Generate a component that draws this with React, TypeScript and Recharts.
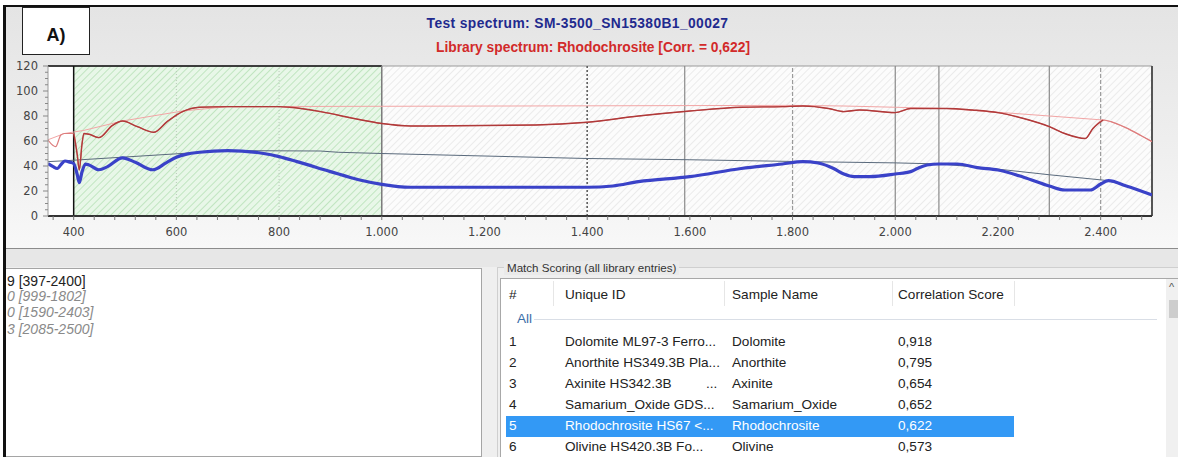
import React from 'react';
import { LineChart, Line, XAxis, YAxis, ReferenceArea, ReferenceLine } from 'recharts';

// test spectrum (blue, thick)
const testWave = [350, 360, 368, 377, 383, 393, 400, 407, 411, 416, 423, 429, 449, 466, 495, 520, 554, 580, 600, 620, 645, 700, 770, 800, 835, 900, 955, 1000, 1055, 1200, 1400, 1450, 1500, 1600, 1700, 1780, 1820, 1850, 1880, 1900, 1920, 1950, 2000, 2030, 2043, 2062, 2085, 2121, 2160, 2200, 2250, 2300, 2330, 2380, 2400, 2415, 2450, 2500];
const testRefl = [42, 39.5, 38, 42, 44, 43, 42, 33, 26.7, 35, 41.5, 41, 37, 39.5, 46.5, 43, 37, 42.5, 47, 49.5, 51, 52.3, 50, 47.5, 43.5, 35.5, 29, 25.3, 23, 23, 23, 24, 27.5, 31.5, 38, 41.6, 43.5, 42.4, 38, 33.6, 31.5, 31.5, 33.6, 35.5, 38, 40.8, 41.6, 41.6, 38.7, 36.8, 31, 24, 20.8, 20.8, 25.6, 28.3, 24, 16.8];

// continuum of the test spectrum (thin slate line)
const testHullWave = [350, 383, 700, 880, 915, 1000, 1250, 1400, 1600, 1820, 2000, 2090, 2200, 2300, 2415, 2450, 2500];
const testHullRefl = [43.5, 44.2, 52.3, 52, 51, 50, 47.5, 46, 45, 43.5, 42.5, 41.6, 37.5, 33, 28.3, 24, 16.8];

// library spectrum (red)
const libWave = [350, 365, 375, 382, 400, 407, 411, 416, 420, 430, 449, 475, 495, 524, 556, 582, 612, 645, 700, 800, 820, 881, 946, 1000, 1056, 1300, 1400, 1500, 1600, 1700, 1780, 1820, 1870, 1900, 1930, 2000, 2030, 2100, 2150, 2200, 2250, 2300, 2330, 2370, 2385, 2405, 2420, 2450, 2480, 2500];
const libRefl = [60.8, 55.5, 64.8, 66, 66, 48.8, 36.8, 56.8, 66, 65.4, 62.7, 72.3, 76, 71.5, 67, 75.5, 83.5, 87, 87.5, 87.5, 87, 83.5, 78, 74, 72, 72.8, 75, 80, 84, 87, 87.5, 88, 86, 83.5, 84.8, 82.7, 86, 86, 84.8, 82.7, 78, 71.5, 66, 62, 70, 76.8, 75.5, 70.5, 64, 59.5];

// continuum of the library spectrum (light pink)
const libHullWave = [350, 382, 420, 495, 612, 700, 1800, 1900, 2000, 2100, 2200, 2300, 2405, 2420, 2450, 2480, 2500];
const libHullRefl = [61, 66, 68.5, 76, 84, 87.5, 88.5, 88, 87, 86, 83, 80, 76.8, 75.5, 70.5, 64, 59.5];

const fitRange = [397, 2405];
const greenRange = [400, 1000];
const gridWaves = [600, 800];
const solidMarks = [1590, 2000, 2085, 2300];
const dashedMarks = [1800, 2400];
const darkDashed = 1400;

const xMajor = [400, 600, 800, 1000, 1200, 1400, 1600, 1800, 2000, 2200, 2400];
const xTicks = Array.from({ length: 54 }, (_, i) => 360 + i * 40);
const yTicks = Array.from({ length: 25 }, (_, i) => i * 5);

// table on the lower right
const rowNums = ['1', '2', '3', '4', '5', '6'];
const uniqueIds = ['Dolomite ML97-3 Ferro...', 'Anorthite HS349.3B Pla...', 'Axinite HS342.3B', 'Samarium_Oxide GDS...', 'Rhodochrosite HS67 <...', 'Olivine HS420.3B Fo...'];
const sampleNames = ['Dolomite', 'Anorthite', 'Axinite', 'Samarium_Oxide', 'Rhodochrosite', 'Olivine'];
const scores = ['0,918', '0,795', '0,654', '0,652', '0,622', '0,573'];
const rangeLines = ['9 [397-2400]', '0 [999-1802]', '0 [1590-2403]', '3 [2085-2500]'];

const pts = (xs: number[], ys: number[]) => xs.map((x, i) => ({ x, y: ys[i] }));
const testData = pts(testWave, testRefl);
const testHull = pts(testHullWave, testHullRefl);
const libData = pts(libWave, libRefl);
const libFit = libData.filter(p => p.x >= fitRange[0] && p.x <= fitRange[1]);
const libHull = pts(libHullWave, libHullRefl);

const sans = '"Liberation Sans", Arial, sans-serif';
const tickFont = '"DejaVu Sans", Verdana, sans-serif';

const fmt = (v: number) => (v >= 1000 ? `${Math.floor(v / 1000)}.${String(v % 1000).padStart(3, '0')}` : String(v));

const XTick = (props: any) => {
  const { x, y, payload } = props;
  const major = xMajor.includes(payload.value);
  return (
    <g>
      <line x1={x} y1={y} x2={x} y2={y + 4} stroke="#777" />
      {major && (
        <text x={x} y={y + 12} dy="0.71em" textAnchor="middle" fontSize={11.5} fontFamily={tickFont} fill="#444">
          {fmt(payload.value)}
        </text>
      )}
    </g>
  );
};

const YTick = (props: any) => {
  const { x, y, payload } = props;
  const major = payload.value % 20 === 0;
  return (
    <g>
      <line x1={x - (major ? 5 : 3)} y1={y} x2={x} y2={y} stroke="#888" />
      {major && (
        <text x={x - 10} y={y} dy="0.355em" textAnchor="end" fontSize={11.5} fontFamily={tickFont} fill="#444">
          {payload.value}
        </text>
      )}
    </g>
  );
};

const cols = [509, 565, 732, 898];
const rowY = [342, 363, 384, 405, 426, 447];

export default function App() {
  return (
    <div style={{ position: 'absolute', left: 0, top: 0, width: 1178, height: 457, overflow: 'hidden', background: '#fff', fontFamily: sans }}>
      {/* upper chart panel */}
      <div style={{ position: 'absolute', left: 5, top: 7, width: 1173, height: 241, background: 'linear-gradient(#e4e4e4, #efefef 60%, #f8f8f8)' }} />
      <div style={{ position: 'absolute', left: 5, top: 248, width: 1173, height: 1, background: '#8c8c8c' }} />
      {/* lower area */}
      <div style={{ position: 'absolute', left: 5, top: 249, width: 1173, height: 208, background: '#efefef' }} />
      <div style={{ position: 'absolute', left: 5, top: 249, width: 1173, height: 18, background: '#e7e7e7' }} />

      <div style={{ position: 'absolute', left: 0, top: 0 }}>
        <LineChart width={1178} height={250} margin={{ top: 66, right: 26, left: 8, bottom: 0 }}>
          <defs>
            <pattern id="hatchGreen" patternUnits="userSpaceOnUse" width={5} height={5} patternTransform="rotate(45)">
              <rect width={5} height={5} fill="#e8f7e8" />
              <line x1={0} y1={0} x2={0} y2={5} stroke="#a6d9a6" strokeWidth={1.2} />
            </pattern>
            <pattern id="hatchGrey" patternUnits="userSpaceOnUse" width={5} height={5} patternTransform="rotate(45)">
              <rect width={5} height={5} fill="#fcfcfc" />
              <line x1={0} y1={0} x2={0} y2={5} stroke="#e0e0e0" strokeWidth={1.2} />
            </pattern>
          </defs>
          <XAxis
            dataKey="x"
            type="number"
            domain={[350, 2500]}
            allowDataOverflow
            ticks={xTicks}
            interval={0}
            height={34}
            tickSize={0}
            tickMargin={0}
            tick={<XTick />}
            axisLine={{ stroke: '#333', strokeWidth: 2 }}
          />
          <YAxis
            type="number"
            domain={[0, 120]}
            ticks={yTicks}
            interval={0}
            width={40}
            tickSize={0}
            tickMargin={0}
            tick={<YTick />}
            axisLine={{ stroke: '#9a9a9a' }}
          />
          <ReferenceArea x1={350} x2={2500} y1={0} y2={120} fill="url(#hatchGrey)" fillOpacity={1} stroke="none" />
          <ReferenceArea x1={350} x2={greenRange[0]} y1={0} y2={120} fill="#ffffff" fillOpacity={1} stroke="none" />
          <ReferenceArea x1={greenRange[0]} x2={greenRange[1]} y1={0} y2={120} fill="url(#hatchGreen)" fillOpacity={1} stroke="none" />
          {gridWaves.map(w => (
            <ReferenceLine key={w} x={w} stroke="#b9c9b9" strokeDasharray="1 2" />
          ))}
          <ReferenceLine y={120} stroke="#9a9a9a" />
          <ReferenceLine segment={[{ x: 350, y: 120 }, { x: greenRange[1], y: 120 }]} stroke="#111" strokeWidth={1.5} />
          <ReferenceLine x={greenRange[0]} stroke="#111" strokeWidth={1.5} />
          <ReferenceLine x={greenRange[1]} stroke="#7a7a7a" strokeWidth={1.5} />
          <ReferenceLine x={darkDashed} stroke="#555" strokeWidth={1.5} strokeDasharray="2 2" />
          {solidMarks.map(w => (
            <ReferenceLine key={w} x={w} stroke="#8a8a8a" strokeWidth={1.2} />
          ))}
          {dashedMarks.map(w => (
            <ReferenceLine key={w} x={w} stroke="#9a9a9a" strokeWidth={1.2} strokeDasharray="4 2" />
          ))}
          <ReferenceLine x={2500} stroke="#555" strokeWidth={2} />
          <Line data={libHull} dataKey="y" type="linear" stroke="#f2a5a5" strokeWidth={1} dot={false} isAnimationActive={false} />
          <Line data={testHull} dataKey="y" type="linear" stroke="#5a6a7c" strokeWidth={1} dot={false} isAnimationActive={false} />
          <Line data={libData} dataKey="y" type="monotone" stroke="#dd7d7d" strokeWidth={1.2} dot={false} isAnimationActive={false} />
          <Line data={libFit} dataKey="y" type="monotone" stroke="#b03a3a" strokeWidth={1.4} dot={false} isAnimationActive={false} />
          <Line data={testData} dataKey="y" type="monotone" stroke="#3a42c8" strokeWidth={3.2} dot={false} isAnimationActive={false} />
        </LineChart>
      </div>

      {/* titles */}
      <div style={{ position: 'absolute', left: 0, top: 16, width: 1155, textAlign: 'center', fontSize: 13.8, letterSpacing: 0.4, lineHeight: '16px', fontWeight: 'bold', color: '#1f2a8e', whiteSpace: 'nowrap' }}>
        Test spectrum: SM-3500_SN15380B1_00027
      </div>
      <div style={{ position: 'absolute', left: 0, top: 40, width: 1186, textAlign: 'center', fontSize: 13.8, lineHeight: '16px', fontWeight: 'bold', color: '#d22a2a', whiteSpace: 'nowrap' }}>
        Library spectrum: Rhodochrosite [Corr. = 0,622]
      </div>

      {/* panel label */}
      <div style={{ position: 'absolute', left: 22, top: 7, width: 66, height: 46, background: '#fff', border: '1px solid #222' }}>
        <div style={{ position: 'absolute', left: 0, top: 17, width: 66, textAlign: 'center', fontSize: 18, lineHeight: '20px', fontWeight: 'bold', color: '#111' }}>A)</div>
      </div>

      {/* left list */}
      <div style={{ position: 'absolute', left: 6, top: 268, width: 475, height: 187, background: '#fff', borderTop: '1px solid #a5a5a5', borderRight: '1px solid #a5a5a5', borderBottom: '1px solid #a5a5a5', overflow: 'hidden' }}>
        {rangeLines.map((t, i) => (
          <div key={t} style={{ position: 'absolute', left: 1, top: [4, 19, 35, 52][i], fontSize: 14, lineHeight: '16px', whiteSpace: 'nowrap', color: i === 0 ? '#222' : '#8a8a8a', fontStyle: i === 0 ? 'normal' : 'italic' }}>
            {t}
          </div>
        ))}
      </div>

      {/* match scoring group */}
      <div style={{ position: 'absolute', left: 497, top: 267, width: 681, height: 1, background: '#cfcfcf' }} />
      <div style={{ position: 'absolute', left: 497, top: 267, width: 1, height: 190, background: '#cfcfcf' }} />
      <div style={{ position: 'absolute', left: 504, top: 261, padding: '0 3px', background: '#eaeaea', fontSize: 11.6, lineHeight: '14px', color: '#333', whiteSpace: 'nowrap' }}>
        Match Scoring (all library entries)
      </div>
      <div style={{ position: 'absolute', left: 500, top: 278, width: 678, height: 179, background: '#fff', borderTop: '1px solid #a8a8a8', borderLeft: '1px solid #a8a8a8' }} />
      {[553, 724, 892, 1014].map(x => (
        <div key={x} style={{ position: 'absolute', left: x, top: 281, width: 1, height: 25, background: '#e6e6e6' }} />
      ))}
      {['#', 'Unique ID', 'Sample Name', 'Correlation Score'].map((h, i) => (
        <div key={h} style={{ position: 'absolute', left: cols[i], top: 287, fontSize: 13.6, lineHeight: '16px', color: '#222', whiteSpace: 'nowrap' }}>{h}</div>
      ))}
      <div style={{ position: 'absolute', left: 517, top: 311, fontSize: 13.6, lineHeight: '16px', color: '#3a6ea8' }}>All</div>
      <div style={{ position: 'absolute', left: 534, top: 319, width: 623, height: 1, background: '#d9dee6' }} />
      <div style={{ position: 'absolute', left: 506, top: rowY[4] - 10.5, width: 508, height: 21, background: '#3399f5' }} />
      {rowNums.map((n, i) => {
        const sel = i === 4;
        const c = sel ? '#fff' : '#222';
        const st = { position: 'absolute' as const, top: rowY[i] - 8, fontSize: 13.6, lineHeight: '16px', color: c, whiteSpace: 'nowrap' as const };
        return (
          <React.Fragment key={n}>
            <div style={{ ...st, left: cols[0] }}>{n}</div>
            <div style={{ ...st, left: cols[1] }}>{uniqueIds[i]}</div>
            {i === 2 && <div style={{ ...st, left: 706 }}>...</div>}
            <div style={{ ...st, left: cols[2] }}>{sampleNames[i]}</div>
            <div style={{ ...st, left: cols[3] }}>{scores[i]}</div>
          </React.Fragment>
        );
      })}
      {/* scrollbar */}
      <div style={{ position: 'absolute', left: 1166, top: 279, width: 12, height: 178, background: '#f0f0f0' }} />
      <div style={{ position: 'absolute', left: 1169, top: 281, fontSize: 11, lineHeight: '12px', color: '#555' }}>^</div>
      <div style={{ position: 'absolute', left: 1169, top: 300, width: 9, height: 18, background: '#cdcdcd' }} />

      {/* outer frame */}
      <div style={{ position: 'absolute', left: 3, top: 5, width: 1175, height: 2, background: '#111' }} />
      <div style={{ position: 'absolute', left: 3, top: 5, width: 2.5, height: 452, background: '#111' }} />
    </div>
  );
}
